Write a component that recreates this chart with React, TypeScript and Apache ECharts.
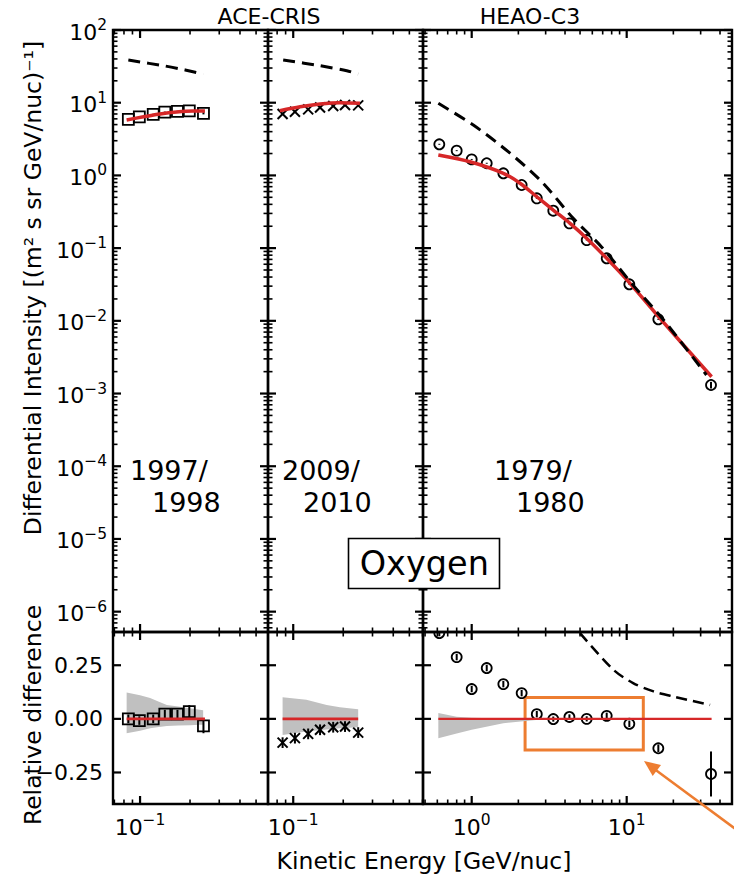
import React, { useEffect, useRef } from "react";
import * as echarts from "echarts";

const FONT = "DejaVu Sans";
const RED = "#d62728";
const GREY = "#c0c0c0";
const ORANGE = "#ed7d31";

// ---------- axis ranges ----------
const xRangeCris97 = [0.0687, 0.59];
const xRangeCris09 = [0.0705, 0.604];
const xRangeHeao = [0.485, 47.8];
const yRangeFlux = [5.25e-7, 100];
const yRangeRel = [-0.397, 0.405];

// ---------- tick labels ----------
const fluxTickExps = [-6, -5, -4, -3, -2, -1, 0, 1, 2];
const relTicks = [-0.25, 0, 0.25];
const relTickLabels = ["\u22120.25", "0.00", "0.25"];
const xTickExpsCris = [-1];
const xTickExpsHeao = [0, 1];
const minorMultipliers = [2, 3, 4, 5, 6, 7, 8, 9];

// ---------- ACE-CRIS 1997/1998 ----------
const cris97E = [0.085, 0.099, 0.12, 0.141, 0.168, 0.198, 0.241];
const cris97Flux = [5.9, 6.4, 6.9, 7.4, 7.6, 7.7, 7.15];
const cris97Rel = [0.0, -0.008, 0.0, 0.022, 0.022, 0.034, -0.033];
const cris97RelErr = [0.02, 0.02, 0.02, 0.02, 0.02, 0.03, 0.034];
const model97E = [0.083, 0.105, 0.132, 0.166, 0.209, 0.246];
const model97Flux = [5.8, 6.4, 7.0, 7.45, 7.69, 7.7];
const ff97E = [0.085, 0.141, 0.187, 0.24];
const ff97Flux = [38.6, 32.0, 28.2, 24.8];
const band97E = [0.083, 0.1, 0.115, 0.13, 0.145, 0.17, 0.2, 0.229, 0.24];
const band97Hi = [0.123, 0.11, 0.097, 0.08, 0.065, 0.058, 0.05, 0.042, 0.04];
const band97Lo = [-0.067, -0.055, -0.044, -0.038, -0.033, -0.031, -0.03, -0.028, -0.028];

// ---------- ACE-CRIS 2009/2010 ----------
const cris09E = [0.0863, 0.1024, 0.123, 0.145, 0.174, 0.205, 0.246];
const cris09Flux = [7.0, 7.5, 8.1, 8.6, 9.0, 9.3, 9.2];
const cris09Rel = [-0.111, -0.09, -0.07, -0.051, -0.039, -0.036, -0.064];
const cris09RelErr = [0.025, 0.025, 0.025, 0.025, 0.025, 0.025, 0.025];
const model09E = [0.083, 0.11, 0.145, 0.191, 0.252];
const model09Flux = [7.77, 8.81, 9.6, 10.0, 9.8];
const ff09E = [0.087, 0.145, 0.21, 0.246];
const ff09Flux = [38.6, 32.3, 27.5, 24.8];
const band09E = [0.0863, 0.12, 0.159, 0.191, 0.246];
const band09Hi = [0.101, 0.089, 0.065, 0.054, 0.045];
const band09Lo = [-0.075, -0.059, -0.05, -0.044, -0.039];

// ---------- HEAO-C3 1979/1980 ----------
const heaoE = [0.618, 0.8, 1.0, 1.25, 1.6, 2.1, 2.63, 3.36, 4.27, 5.52, 7.43, 10.4, 16.0, 35.0];
const heaoFlux = [2.68, 2.19, 1.66, 1.47, 1.07, 0.738, 0.484, 0.327, 0.219, 0.129, 0.0724, 0.0318, 0.0105, 0.00131];
const heaoRel = [0.4, 0.288, 0.139, 0.237, 0.162, 0.12, 0.022, -0.001, 0.009, 0.0, 0.014, -0.023, -0.137, -0.257];
const heaoRelErr = [0.015, 0.015, 0.015, 0.015, 0.015, 0.015, 0.015, 0.012, 0.012, 0.012, 0.015, 0.015, 0.018, 0.105];
const modelHeaoE = [0.609, 0.975, 1.6, 2.05, 2.63, 3.36, 4.31, 5.53, 7.43, 10.5, 16.4, 35.3];
const modelHeaoFlux = [1.91, 1.54, 1.07, 0.78, 0.509, 0.334, 0.219, 0.136, 0.0724, 0.0328, 0.0108, 0.0017];
const ffHeaoE = [0.609, 1.024, 1.72, 2.83, 4.52, 6.88, 11.0, 17.3, 32.7];
const ffHeaoFlux = [9.81, 4.93, 2.12, 0.818, 0.257, 0.104, 0.031, 0.01026, 0.0018];
const ffHeaoRelE = [5.0, 8.2, 11.0, 14.9, 20.0, 34.5];
const ffHeaoRel = [0.4, 0.229, 0.167, 0.128, 0.104, 0.065];
const bandHeaoE = [0.609, 0.8, 1.0, 1.6, 2.6, 3.3];
const bandHeaoHi = [0.027, 0.01, 0.005, 0.002, 0.0, 0.0];
const bandHeaoLo = [-0.09, -0.068, -0.051, -0.02, -0.005, 0.0];

// highlighted region (energy, relative difference)
const highlightBox = [[2.21, 0.0995], [12.8, -0.145]];

const titles = ["ACE-CRIS", "HEAO-C3"];
const periodLabels = [["1997/", "1998"], ["2009/", "2010"], ["1979/", "1980"]];
const elementName = "Oxygen";
const yLabelFlux = "Differential Intensity [(m\u00b2 s sr GeV/nuc)\u207b\u00b9]";
const yLabelRel = "Relative difference";
const xLabel = "Kinetic Energy [GeV/nuc]";

const supText = (e: number) => `{b|10}{s|${e < 0 ? "\u2212" + -e : e}}`;
const supRich = {
  b: { fontSize: 22, fontFamily: FONT, fill: "#000", lineHeight: 26, verticalAlign: "bottom" },
  s: { fontSize: 15.5, fontFamily: FONT, fill: "#000", lineHeight: 16, verticalAlign: "top" },
};

function logMinors(range: number[]) {
  const out: number[] = [];
  const lo = Math.floor(Math.log10(range[0]));
  const hi = Math.ceil(Math.log10(range[1]));
  for (let n = lo; n <= hi; n++) {
    for (const k of minorMultipliers) {
      const v = k * Math.pow(10, n);
      if (v > range[0] && v < range[1]) out.push(v);
    }
  }
  return out;
}

type TickCfg = {
  gi: number;
  xr: number[];
  yr: number[];
  xMajors: number[];
  xMinors: number[];
  yMajors: number[];
  yMinors: number[];
  xLabels: string[] | null;
  yLabels: string[] | null;
  yRich: boolean;
};

function tickSeries(c: TickCfg) {
  const data: number[][] = [];
  c.yMajors.forEach((v, i) => data.push([c.xr[0], v, 0, i]));
  c.yMinors.forEach((v) => data.push([c.xr[0], v, 1, -1]));
  c.xMajors.forEach((v, i) => data.push([v, c.yr[0], 2, i]));
  c.xMinors.forEach((v) => data.push([v, c.yr[0], 3, -1]));
  return {
    type: "custom",
    xAxisIndex: c.gi,
    yAxisIndex: c.gi,
    clip: false,
    silent: true,
    z: 6,
    data,
    renderItem: (params: any, api: any) => {
      const cs = params.coordSys;
      const code = api.value(2);
      const li = api.value(3);
      const p = api.coord([api.value(0), api.value(1)]);
      const major = code === 0 || code === 2;
      const len = major ? 8 : 4.5;
      const lw = major ? 2.2 : 1.6;
      const st = { stroke: "#000", lineWidth: lw };
      const children: any[] = [];
      if (code < 2) {
        const py = p[1];
        children.push({ type: "line", shape: { x1: cs.x, y1: py, x2: cs.x + len, y2: py }, style: st });
        children.push({ type: "line", shape: { x1: cs.x + cs.width - len, y1: py, x2: cs.x + cs.width, y2: py }, style: st });
        if (major && c.yLabels && li >= 0) {
          children.push({
            type: "text",
            x: c.yRich ? cs.x - 6 : cs.x - 10,
            y: py,
            style: c.yRich
              ? { text: c.yLabels[li], rich: supRich, align: "right", verticalAlign: "middle", fontSize: 22, fontFamily: FONT, fill: "#000" }
              : { text: c.yLabels[li], align: "right", verticalAlign: "middle", fontSize: 22, fontFamily: FONT, fill: "#000" },
          });
        }
      } else {
        const px = p[0];
        children.push({ type: "line", shape: { x1: px, y1: cs.y, x2: px, y2: cs.y + len }, style: st });
        children.push({ type: "line", shape: { x1: px, y1: cs.y + cs.height - len, x2: px, y2: cs.y + cs.height }, style: st });
        if (major && c.xLabels && li >= 0) {
          children.push({
            type: "text",
            x: px,
            y: cs.y + cs.height + 8,
            style: { text: c.xLabels[li], rich: supRich, align: "center", verticalAlign: "top", fontSize: 22, fontFamily: FONT, fill: "#000" },
          });
        }
      }
      return { type: "group", children };
    },
  };
}

function markerSeries(gi: number, xs: number[], ys: number[], lo: number[], hi: number[], shape: string) {
  return {
    type: "custom",
    xAxisIndex: gi,
    yAxisIndex: gi,
    clip: true,
    silent: true,
    z: 3,
    data: xs.map((x, i) => [x, ys[i], lo[i], hi[i]]),
    renderItem: (params: any, api: any) => {
      const p = api.coord([api.value(0), api.value(1)]);
      const pl = api.coord([api.value(0), api.value(2)]);
      const ph = api.coord([api.value(0), api.value(3)]);
      const st = { stroke: "#000", lineWidth: 1.8, fill: "none" };
      const children: any[] = [
        { type: "line", shape: { x1: p[0], y1: pl[1], x2: p[0], y2: ph[1] }, style: { stroke: "#000", lineWidth: 2 } },
      ];
      if (shape === "circle") {
        children.push({ type: "circle", shape: { cx: p[0], cy: p[1], r: 5 }, style: st });
      } else if (shape === "square") {
        children.push({ type: "rect", shape: { x: p[0] - 5.5, y: p[1] - 5.5, width: 11, height: 11 }, style: st });
      } else {
        const h = 5;
        children.push({ type: "line", shape: { x1: p[0] - h, y1: p[1] - h, x2: p[0] + h, y2: p[1] + h }, style: { stroke: "#000", lineWidth: 2 } });
        children.push({ type: "line", shape: { x1: p[0] - h, y1: p[1] + h, x2: p[0] + h, y2: p[1] - h }, style: { stroke: "#000", lineWidth: 2 } });
      }
      return { type: "group", children };
    },
  };
}

function bandSeries(gi: number, xs: number[], lo: number[], hi: number[]) {
  return {
    type: "custom",
    xAxisIndex: gi,
    yAxisIndex: gi,
    clip: true,
    silent: true,
    z: 1,
    data: [[xs[0], 0]],
    renderItem: (params: any, api: any) => {
      const pts: number[][] = [];
      xs.forEach((x, i) => pts.push(api.coord([x, hi[i]])));
      for (let i = xs.length - 1; i >= 0; i--) pts.push(api.coord([xs[i], lo[i]]));
      return { type: "polygon", shape: { points: pts }, style: { fill: GREY } };
    },
  };
}

function lineSeries(gi: number, xs: number[], ys: number[], dashed: boolean, width: number, extra: any = {}) {
  return {
    type: "line",
    xAxisIndex: gi,
    yAxisIndex: gi,
    data: xs.map((x, i) => [x, ys[i]]),
    symbol: "none",
    showSymbol: false,
    smooth: 0.3,
    silent: true,
    z: dashed ? 5 : 4,
    lineStyle: dashed ? { color: "#000", width, type: [12, 7] } : { color: RED, width },
    ...extra,
  };
}

const relBounds = (v: number[], e: number[], sign: number) => v.map((x, i) => x + sign * e[i]);
const fluxBounds = (f: number[], e: number[], sign: number) => f.map((x, i) => x * (1 + sign * e[i]));

export default function App() {
  const ref = useRef<HTMLDivElement>(null);
  useEffect(() => {
    if (!ref.current) return;
    const chart = echarts.init(ref.current, undefined, { renderer: "svg" });

    const grids = [
      { left: 113, top: 30, width: 155, height: 602 },
      { left: 268, top: 30, width: 155, height: 602 },
      { left: 423, top: 30, width: 309, height: 602 },
      { left: 113, top: 632, width: 155, height: 172 },
      { left: 268, top: 632, width: 155, height: 172 },
      { left: 423, top: 632, width: 309, height: 172 },
    ].map((g) => ({ ...g, show: true, borderColor: "#000", borderWidth: 2.4, backgroundColor: "transparent" }));

    const xr = [xRangeCris97, xRangeCris09, xRangeHeao];
    const xAxis = [0, 1, 2, 3, 4, 5].map((gi) => ({
      type: "log",
      logBase: 10,
      gridIndex: gi,
      min: xr[gi % 3][0],
      max: xr[gi % 3][1],
      show: false,
    }));
    const yAxis = [0, 1, 2, 3, 4, 5].map((gi) =>
      gi < 3
        ? { type: "log", logBase: 10, gridIndex: gi, min: yRangeFlux[0], max: yRangeFlux[1], show: false }
        : { type: "value", gridIndex: gi, min: yRangeRel[0], max: yRangeRel[1], show: false }
    );

    const fluxMajors = fluxTickExps.map((e) => Math.pow(10, e));
    const fluxMinors = logMinors(yRangeFlux);
    const xExps = [xTickExpsCris, xTickExpsCris, xTickExpsHeao];

    const ticks: any[] = [];
    for (let gi = 0; gi < 6; gi++) {
      const col = gi % 3;
      const top = gi < 3;
      ticks.push(
        tickSeries({
          gi,
          xr: xr[col],
          yr: top ? yRangeFlux : yRangeRel,
          xMajors: xExps[col].map((e) => Math.pow(10, e)),
          xMinors: logMinors(xr[col]),
          yMajors: top ? fluxMajors : relTicks,
          yMinors: top ? fluxMinors : [],
          xLabels: top ? null : xExps[col].map((e) => supText(e)),
          yLabels: col !== 0 ? null : top ? fluxTickExps.map((e) => supText(e)) : relTickLabels,
          yRich: top,
        })
      );
    }

    const series: any[] = [
      // top row
      markerSeries(0, cris97E, cris97Flux, fluxBounds(cris97Flux, cris97RelErr, -1), fluxBounds(cris97Flux, cris97RelErr, 1), "square"),
      lineSeries(0, model97E, model97Flux, false, 3.5),
      lineSeries(0, ff97E, ff97Flux, true, 3),
      markerSeries(1, cris09E, cris09Flux, fluxBounds(cris09Flux, cris09RelErr, -1), fluxBounds(cris09Flux, cris09RelErr, 1), "cross"),
      lineSeries(1, model09E, model09Flux, false, 3.5),
      lineSeries(1, ff09E, ff09Flux, true, 3),
      markerSeries(2, heaoE, heaoFlux, fluxBounds(heaoFlux, heaoRelErr, -1), fluxBounds(heaoFlux, heaoRelErr, 1), "circle"),
      lineSeries(2, modelHeaoE, modelHeaoFlux, false, 3.5),
      lineSeries(2, ffHeaoE, ffHeaoFlux, true, 3),
      // bottom row
      bandSeries(3, band97E, band97Lo, band97Hi),
      lineSeries(3, [model97E[0], model97E[model97E.length - 1]], [0, 0], false, 2.6),
      markerSeries(3, cris97E, cris97Rel, relBounds(cris97Rel, cris97RelErr, -1), relBounds(cris97Rel, cris97RelErr, 1), "square"),
      bandSeries(4, band09E, band09Lo, band09Hi),
      lineSeries(4, [band09E[0], band09E[band09E.length - 1]], [0, 0], false, 2.6),
      markerSeries(4, cris09E, cris09Rel, relBounds(cris09Rel, cris09RelErr, -1), relBounds(cris09Rel, cris09RelErr, 1), "cross"),
      bandSeries(5, bandHeaoE, bandHeaoLo, bandHeaoHi),
      lineSeries(5, [modelHeaoE[0], modelHeaoE[modelHeaoE.length - 1]], [0, 0], false, 2.2, {
        markArea: {
          silent: true,
          itemStyle: { color: "rgba(0,0,0,0)", borderColor: ORANGE, borderWidth: 3 },
          data: [[{ coord: highlightBox[0] }, { coord: highlightBox[1] }]],
        },
      }),
      markerSeries(5, heaoE, heaoRel, relBounds(heaoRel, heaoRelErr, -1), relBounds(heaoRel, heaoRelErr, 1), "circle"),
      lineSeries(5, ffHeaoRelE, ffHeaoRel, true, 2.5, { lineStyle: { color: "#000", width: 2.5, type: [11, 6] } }),
      ...ticks,
    ];

    const txt = (x: number, y: number, text: string, size: number, align = "center", extra: any = {}) => ({
      type: "text",
      x,
      y,
      z: 100,
      silent: true,
      ...extra,
      style: { text, fontSize: size, fontFamily: FONT, fill: "#000", align, verticalAlign: "middle" },
    });

    const head = [[644, 761], [661, 764.9], [652.7, 776.1]];

    chart.setOption({
      animation: false,
      backgroundColor: "#fff",
      textStyle: { fontFamily: FONT },
      grid: grids,
      xAxis,
      yAxis,
      series,
      graphic: [
        txt(269, 16, titles[0], 22),
        txt(530, 16, titles[1], 22),
        txt(130, 470, periodLabels[0][0], 27, "left"),
        txt(152, 502, periodLabels[0][1], 27, "left"),
        txt(282, 470, periodLabels[1][0], 27, "left"),
        txt(303, 502, periodLabels[1][1], 27, "left"),
        txt(494, 470, periodLabels[2][0], 27, "left"),
        txt(516, 502, periodLabels[2][1], 27, "left"),
        {
          type: "rect",
          z: 99,
          silent: true,
          shape: { x: 348.5, y: 538.5, width: 151, height: 50 },
          style: { fill: "#fff", stroke: "#000", lineWidth: 1.6 },
        },
        txt(424.3, 563.5, elementName, 33.5),
        txt(33, 288, yLabelFlux, 23.5, "center", { rotation: Math.PI / 2 }),
        txt(33, 715, yLabelRel, 23.5, "center", { rotation: Math.PI / 2 }),
        txt(424, 861, xLabel, 23.5),
        {
          type: "line",
          z: 100,
          silent: true,
          shape: { x1: 745, y1: 836, x2: 653, y2: 768 },
          style: { stroke: ORANGE, lineWidth: 2.5 },
        },
        {
          type: "polygon",
          z: 100,
          silent: true,
          shape: { points: head },
          style: { fill: ORANGE },
        },
      ],
    });
    return () => chart.dispose();
  }, []);
  return <div ref={ref} style={{ position: "fixed", left: 0, top: 0, width: 734, height: 883 }} />;
}
